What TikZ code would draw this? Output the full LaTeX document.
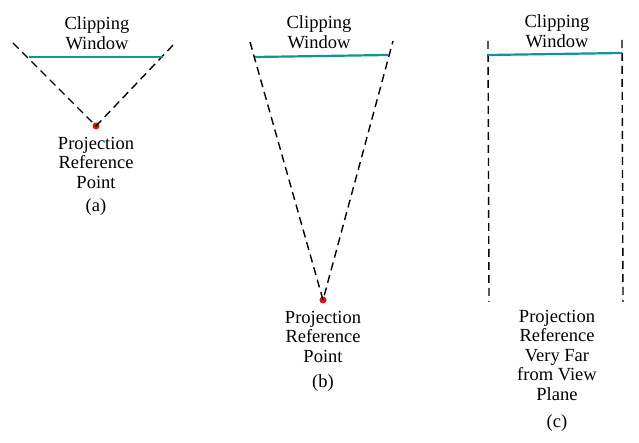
\documentclass[tikz,border=0pt]{standalone}
\usepackage{fontspec}
\setmainfont{Liberation Serif}
\usetikzlibrary{positioning}
\definecolor{windowcol}{rgb}{0.06,0.58,0.6}
\definecolor{dotred}{rgb}{0.86,0.08,0.08}

\begin{document}
\begin{tikzpicture}[x=1pt, y=-1pt,
    window/.style={draw=windowcol, line width=2.2pt},
    ray/.style={draw, dash pattern=on 8pt off 5pt, line width=1.4pt},
    prp/.style={circle, fill=dotred, inner sep=0pt, minimum size=7pt},
    caption/.style={font=\fontsize{18.5}{19.5}\selectfont, align=center, inner sep=0pt},
    sublabel/.style={font=\fontsize{18.5}{19.5}\selectfont, inner sep=0pt}
]

\useasboundingbox (0,0) rectangle (639,443);

% (a)
\node[caption] (winA) at (97,33) {Clipping\\Window};
\coordinate (winAl) at (29,57);
\coordinate (winAr) at (163,57);
\coordinate (rayAl) at (13,43);
\coordinate (rayAr) at (176,42);
\node[prp] (prpA) at (96,126) {};
\draw[ray] (rayAl) -- (prpA.center) -- (rayAr);
\draw[window] (winAl) -- (winAr);
\node[caption, below=7pt of prpA] (textA) {Projection\\Reference\\Point};
\node[sublabel, below=10pt of textA] (capA) {(a)};

% (b)
\node[caption] (winB) at (319,32) {Clipping\\Window};
\coordinate (winBl) at (255,57);
\coordinate (winBr) at (388,55);
\coordinate (rayBl) at (250,42);
\coordinate (rayBr) at (393,41);
\node[prp] (prpB) at (323,300) {};
\draw[ray] (rayBl) -- (prpB.center) -- (rayBr);
\draw[window] (winBl) -- (winBr);
\node[caption, below=7pt of prpB] (textB) {Projection\\Reference\\Point};
\node[sublabel, below=12pt of textB] (capB) {(b)};

% (c)
\node[caption] (winC) at (557,31) {Clipping\\Window};
\coordinate (winCl) at (488,55);
\coordinate (winCr) at (622,53);
\coordinate (rayCtl) at (488,41);
\coordinate (rayCbl) at (489,302);
\coordinate (rayCtr) at (622,40);
\coordinate (rayCbr) at (623,302);
\draw[ray] (rayCtl) -- (rayCbl);
\draw[ray] (rayCtr) -- (rayCbr);
\draw[window] (winCl) -- (winCr);
\coordinate (prpC) at (557,302);
\node[caption, below=8pt of prpC] (textC) {Projection\\Reference\\Very Far\\from View\\Plane};
\node[sublabel, below=14pt of textC] (capC) {(c)};

\end{tikzpicture}
\end{document}
